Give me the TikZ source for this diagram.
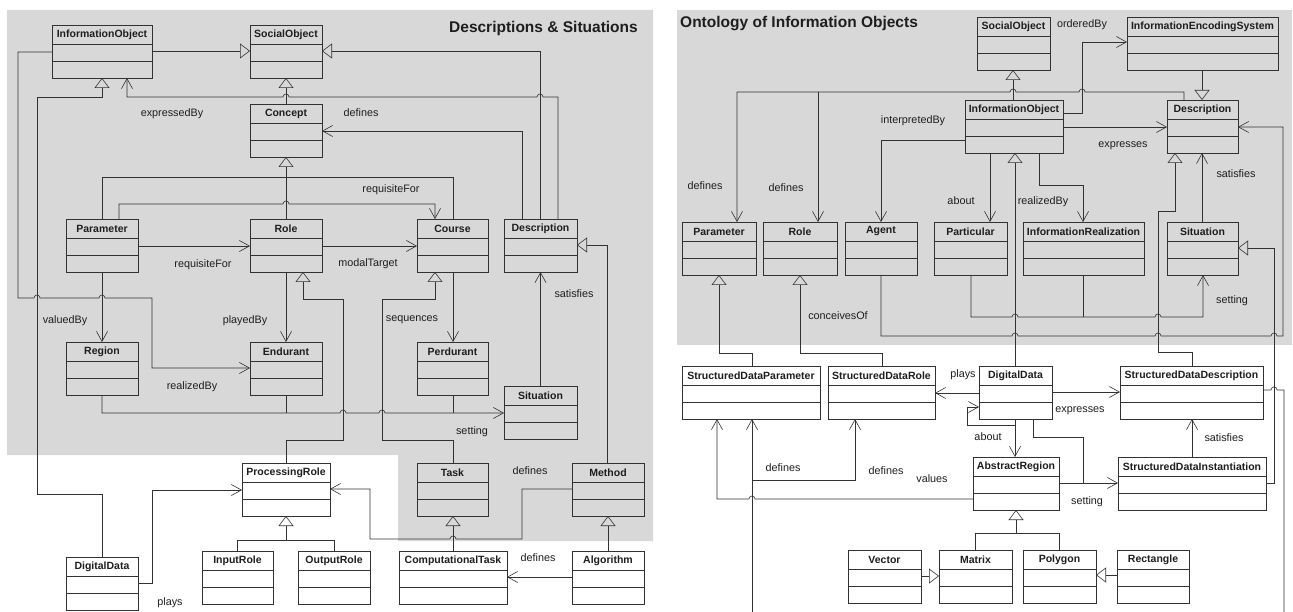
\documentclass[tikz,border=0pt]{standalone}
\usepackage{fontspec}
\setmainfont{Liberation Sans}
\usetikzlibrary{arrows.meta}
\definecolor{bgray}{RGB}{216,216,216}
\definecolor{linec}{RGB}{50,50,50}
\definecolor{txtc}{RGB}{30,30,30}
\tikzset{
  clsbox/.style={draw=linec,line width=0.6pt,inner sep=0pt,outer sep=0pt,rectangle},
  clsname/.style={inner sep=0pt,outer sep=0pt,text=txtc,font=\fontsize{10.5}{12}\selectfont\bfseries},
  clsline/.style={draw=linec,line width=0.6pt},
  lbl/.style={inner sep=0pt,text=txtc,font=\fontsize{10.8}{12}\selectfont},
  ttl/.style={inner sep=0pt,text=txtc,font=\fontsize{15.5}{18}\selectfont\bfseries},
  wire/.style={draw=linec,line width=0.6pt},
  assoc/.style={wire,-{Straight Barb[length=10pt,width=11pt]}},
  gen/.style={wire,-{Triangle[open,length=10pt,width=15pt]}}
}
\newcommand{\umlclass}[5]{%
  \pgfmathsetlengthmacro{\ucw}{(#4)-(#2)}%
  \node[clsbox, anchor=north west, minimum width=\ucw, minimum height=53pt] (#1) at (#2,#3) {};
  \node[clsname] (#1-n) at ([yshift=-9.5pt]#1.north) {#5};
  \draw[clsline] ([yshift=-19pt]#1.north west) -- ([yshift=-19pt]#1.north east);
  \draw[clsline] ([yshift=-36pt]#1.north west) -- ([yshift=-36pt]#1.north east);
}
\begin{document}
\begin{tikzpicture}[x=1pt,y=-1pt]
\useasboundingbox (0,0) rectangle (1293,612);
\fill[white] (0,0) rectangle (1293,612);
\fill[bgray] (7,10) -- (653,10) -- (653,541) -- (398,541) -- (398,455) -- (7,455) -- cycle;
\fill[bgray] (677,10) rectangle (1292,345);

\node[ttl, anchor=east] (t1) at (638,28) {Descriptions \& Situations};
\node[ttl, anchor=west] (t2) at (680,24) {Ontology of Information Objects};

% ---------- left classes
\umlclass{iol}{52}{25}{152}{InformationObject}
\umlclass{sol}{250}{25}{322}{SocialObject}
\umlclass{con}{250}{104}{322}{Concept}
\umlclass{par}{66}{219}{138}{Parameter}
\umlclass{rol}{250}{219}{322}{Role}
\umlclass{cou}{417}{219}{488}{Course}
\umlclass{desl}{504}{219}{577}{Description}
\umlclass{reg}{66}{342}{138}{Region}
\umlclass{end}{250}{342}{322}{Endurant}
\umlclass{per}{417}{342}{488}{Perdurant}
\umlclass{sitl}{504}{386}{577}{Situation}
\umlclass{pro}{242}{463}{330}{ProcessingRole}
\umlclass{tas}{417}{463}{488}{Task}
\umlclass{met}{572}{463}{644}{Method}
\umlclass{ddl}{66}{557}{138}{DigitalData}
\umlclass{inr}{202}{551}{273}{InputRole}
\umlclass{our}{298}{551}{370}{OutputRole}
\umlclass{ctk}{399}{551}{507}{ComputationalTask}
\umlclass{alg}{572}{551}{644}{Algorithm}

% ---------- right classes
\umlclass{sor}{977}{17}{1050}{SocialObject}
\umlclass{ies}{1127}{17}{1278}{InformationEncodingSystem}
\umlclass{ior}{965}{100}{1063}{InformationObject}
\umlclass{desr}{1167}{100}{1238}{Description}
\umlclass{parr}{682}{222}{756}{Parameter}
\umlclass{rolr}{763}{222}{837}{Role}
\umlclass{age}{845}{222}{917}{Agent}
\umlclass{ptc}{934}{222}{1007}{Particular}
\umlclass{irz}{1023}{222}{1144}{InformationRealization}
\umlclass{sitr}{1167}{222}{1238}{Situation}
\umlclass{sdp}{682}{366}{820}{StructuredDataParameter}
\umlclass{sdr}{828}{366}{935}{StructuredDataRole}
\umlclass{ddr}{979}{366}{1052}{DigitalData}
\umlclass{sdd}{1120}{366}{1263}{StructuredDataDescription}
\umlclass{abr}{973}{457}{1059}{AbstractRegion}
\umlclass{sdi}{1118}{457}{1266}{StructuredDataInstantiation}
\umlclass{vec}{848}{550}{921}{Vector}
\umlclass{mat}{939}{550}{1012}{Matrix}
\umlclass{pol}{1023}{550}{1096}{Polygon}
\umlclass{rec}{1117}{550}{1189}{Rectangle}

% ---------- left connectors
\draw[gen] (iol.east |- 0,51) -- (sol.west |- 0,51);
\draw[gen] (desl.north -| 540,0) -- (540,51) -- (sol.east |- 0,51);
\draw[gen] (con.north) -- (sol.south);
\draw[assoc] (desl.north -| 558,0) -- (558,97) -- (543,97) arc (0:-180:3) -- (289,97) arc (0:-180:3) -- (127,97) -- (iol.south -| 127,0);
\draw[assoc] (desl.north -| 522,0) -- (522,131) -- (con.east |- 0,131);
\draw[gen] (rol.north) -- (con.south);
\draw[wire] (par.north -| 102,0) -- (102,177) -- (453,177) -- (cou.north -| 453,0);
\draw[assoc] (par.north -| 119,0) -- (119,204) -- (283,204) arc (180:360:3) -- (435,204) -- (cou.north -| 435,0);
\draw[assoc] (par.east |- 0,246) -- (rol.west |- 0,246);
\draw[assoc] (rol.east |- 0,246) -- (cou.west |- 0,246);
\draw[assoc] (rol.south) -- (end.north);
\draw[gen] (pro.north) -- (286,440) -- (343,440) -- (343,299) -- (303,299) -- (rol.south -| 303,0);
\draw[gen] (tas.north -| 453,0) -- (453,440) -- (382,440) -- (382,299) -- (435,299) -- (cou.south -| 435,0);
\draw[assoc] (cou.south -| 453,0) -- (per.north -| 453,0);
\draw[assoc] (sitl.north) -- (desl.south);
\draw[gen] (met.north -| 607,0) -- (607,245) -- (desl.east |- 0,245);
\draw[assoc] (reg.south) -- (102,413) -- (340,413) arc (180:360:3) -- (379,413) arc (180:360:3) -- (sitl.west |- 0,413);
\draw[wire] (end.south) -- (286,413);
\draw[wire] (per.south -| 453,0) -- (453,413);
\draw[assoc] (par.south) -- (reg.north);
\draw[assoc] (iol.west |- 0,52) -- (18,52) -- (18,298) -- (34,298) arc (180:360:3) -- (99,298) arc (180:360:3) -- (152,298) -- (152,368) -- (end.west |- 0,368);
\draw[gen] (ddl.north) -- (102,494) -- (37,494) -- (37,97) -- (102,97) -- (iol.south -| 102,0);
\draw[assoc] (ddl.east |- 0,583) -- (152,583) -- (152,490) -- (pro.west |- 0,490);
\draw[gen] (286,540) -- (pro.south);
\draw[wire] (inr.north) -- (237.5,540) -- (334,540) -- (our.north);
\draw[assoc] (met.west |- 0,489) -- (522,489) -- (522,539) -- (456,539) arc (0:-180:3) -- (370,539) -- (370,489) -- (pro.east |- 0,489);
\draw[gen] (ctk.north -| 453,0) -- (tas.south -| 453,0);
\draw[gen] (alg.north) -- (met.south);
\draw[assoc] (alg.west |- 0,577) -- (ctk.east |- 0,577);

% ---------- right connectors
\coordinate (offR) at (1284,612);
\coordinate (offL) at (752,612);
\draw[gen] (ior.north -| 1013,0) -- (sor.south -| 1013,0);
\draw[assoc] (desr.north -| 1184,0) -- (1184,92) -- (1085,92) arc (0:-180:3) -- (1016,92) arc (0:-180:3) -- (737,92) -- (parr.north -| 737,0);
\draw[assoc] (818,92) -- (rolr.north -| 818,0);
\draw[gen] (ies.south -| 1202,0) -- (desr.north -| 1202,0);
\draw[assoc] (ior.east |- 0,113) -- (1082,113) -- (1082,42) -- (ies.west |- 0,42);
\draw[assoc] (ior.east |- 0,127) -- (desr.west |- 0,127);
\draw[assoc] (ior.west |- 0,140) -- (881,140) -- (age.north -| 881,0);
\draw[assoc] (ior.south -| 990,0) -- (ptc.north -| 990,0);
\draw[assoc] (ior.south -| 1039,0) -- (1039,185) -- (1083,185) -- (irz.north -| 1083,0);
\draw[gen] (ddr.north -| 1015,0) -- (ior.south -| 1015,0);
\draw[assoc] (sitr.north -| 1202,0) -- (desr.south -| 1202,0);
\draw[gen] (sdd.north -| 1192,0) -- (1192,352) -- (1158,352) -- (1158,211) -- (1175,211) -- (desr.south -| 1175,0);
\draw[gen] (sdi.east |- 0,483) -- (1274,483) -- (1274,248) -- (sitr.east |- 0,248);
\draw[assoc] (age.south) -- (881,336) -- (1012,336) arc (180:360:3) -- (1155,336) arc (180:360:3) -- (1271,336) arc (180:360:3) -- (1283,336) -- (1283,127) -- (desr.east |- 0,127);
\draw[assoc] (ptc.south -| 971,0) -- (971,317) -- (1012,317) arc (180:360:3) -- (1155,317) arc (180:360:3) -- (1203,317) -- (sitr.south -| 1203,0);
\draw[wire] (irz.south -| 1083,0) -- (1083,317);
\draw[gen] (sdp.north -| 752,0) -- (752,353) -- (719,353) -- (parr.south -| 719,0);
\draw[gen] (sdr.north -| 882,0) -- (882,353) -- (800,353) -- (rolr.south -| 800,0);
\draw[assoc] (ddr.west |- 0,393) -- (sdr.east |- 0,393);
\draw[assoc] (ddr.south -| 1015,0) -- (abr.north -| 1015,0);
\draw[assoc] (1015,425) -- (967,425) -- (967,407) -- (ddr.west |- 0,407);
\draw[assoc] (ddr.east |- 0,392) -- (sdd.west |- 0,392);
\draw[assoc] (abr.east |- 0,483) -- (sdi.west |- 0,483);
\draw[wire] (ddr.south -| 1033,0) -- (1033,437) -- (1083,437) -- (1083,483);
\draw[assoc] (sdi.north -| 1192,0) -- (sdd.south -| 1192,0);
\draw[wire] (sdd.east |- 0,390) -- (1271,390) arc (180:360:3) -- (1284,390) -- (offR);
\draw[assoc] (abr.west |- 0,499) -- (755,499) arc (0:-180:3) -- (717,499) -- (sdp.south -| 717,0);
\draw[assoc] (offL) -- (sdp.south -| 752,0);
\draw[assoc] (752,480) -- (855,480) -- (sdr.south -| 855,0);
\draw[gen] (1016,533) -- (abr.south -| 1016,0);
\draw[wire] (mat.north -| 975,0) -- (975,533) -- (1059,533) -- (pol.north -| 1059,0);
\draw[gen] (vec.east |- 0,576) -- (mat.west |- 0,576);
\draw[gen] (rec.west |- 0,575) -- (pol.east |- 0,575);

% ---------- labels left
\node[lbl] (l1) at (172,114) {expressedBy};
\node[lbl] (l2) at (361,113) {defines};
\node[lbl] (l3) at (391,190) {requisiteFor};
\node[lbl] (l4) at (203,265) {requisiteFor};
\node[lbl] (l5) at (368,264) {modalTarget};
\node[lbl] (l6) at (65,321) {valuedBy};
\node[lbl] (l7) at (245,321) {playedBy};
\node[lbl] (l8) at (412,320) {sequences};
\node[lbl] (l9) at (574,294) {satisfies};
\node[lbl] (l10) at (192,387) {realizedBy};
\node[lbl] (l11) at (472,432) {setting};
\node[lbl] (l12) at (170,603) {plays};
\node[lbl] (l13) at (530,471) {defines};
\node[lbl] (l14) at (538,558) {defines};
% ---------- labels right
\node[lbl] (r1) at (1082,25) {orderedBy};
\node[lbl] (r2) at (913,121) {interpretedBy};
\node[lbl] (r3) at (705,186) {defines};
\node[lbl] (r4) at (786,188) {defines};
\node[lbl] (r5) at (961,201) {about};
\node[lbl] (r6) at (1043,202) {realizedBy};
\node[lbl] (r7) at (1123,146) {expresses};
\node[lbl] (r8) at (1236,174) {satisfies};
\node[lbl] (r9) at (1232,301) {setting};
\node[lbl] (r10) at (838,316) {conceivesOf};
\node[lbl] (r11) at (963,375) {plays};
\node[lbl] (r12) at (1080,411) {expresses};
\node[lbl] (r13) at (988,437) {about};
\node[lbl] (r14) at (1224,438) {satisfies};
\node[lbl] (r15) at (932,479) {values};
\node[lbl] (r16) at (783,468) {defines};
\node[lbl] (r17) at (886,471) {defines};
\node[lbl] (r18) at (1087,502) {setting};
\end{tikzpicture}
\end{document}
